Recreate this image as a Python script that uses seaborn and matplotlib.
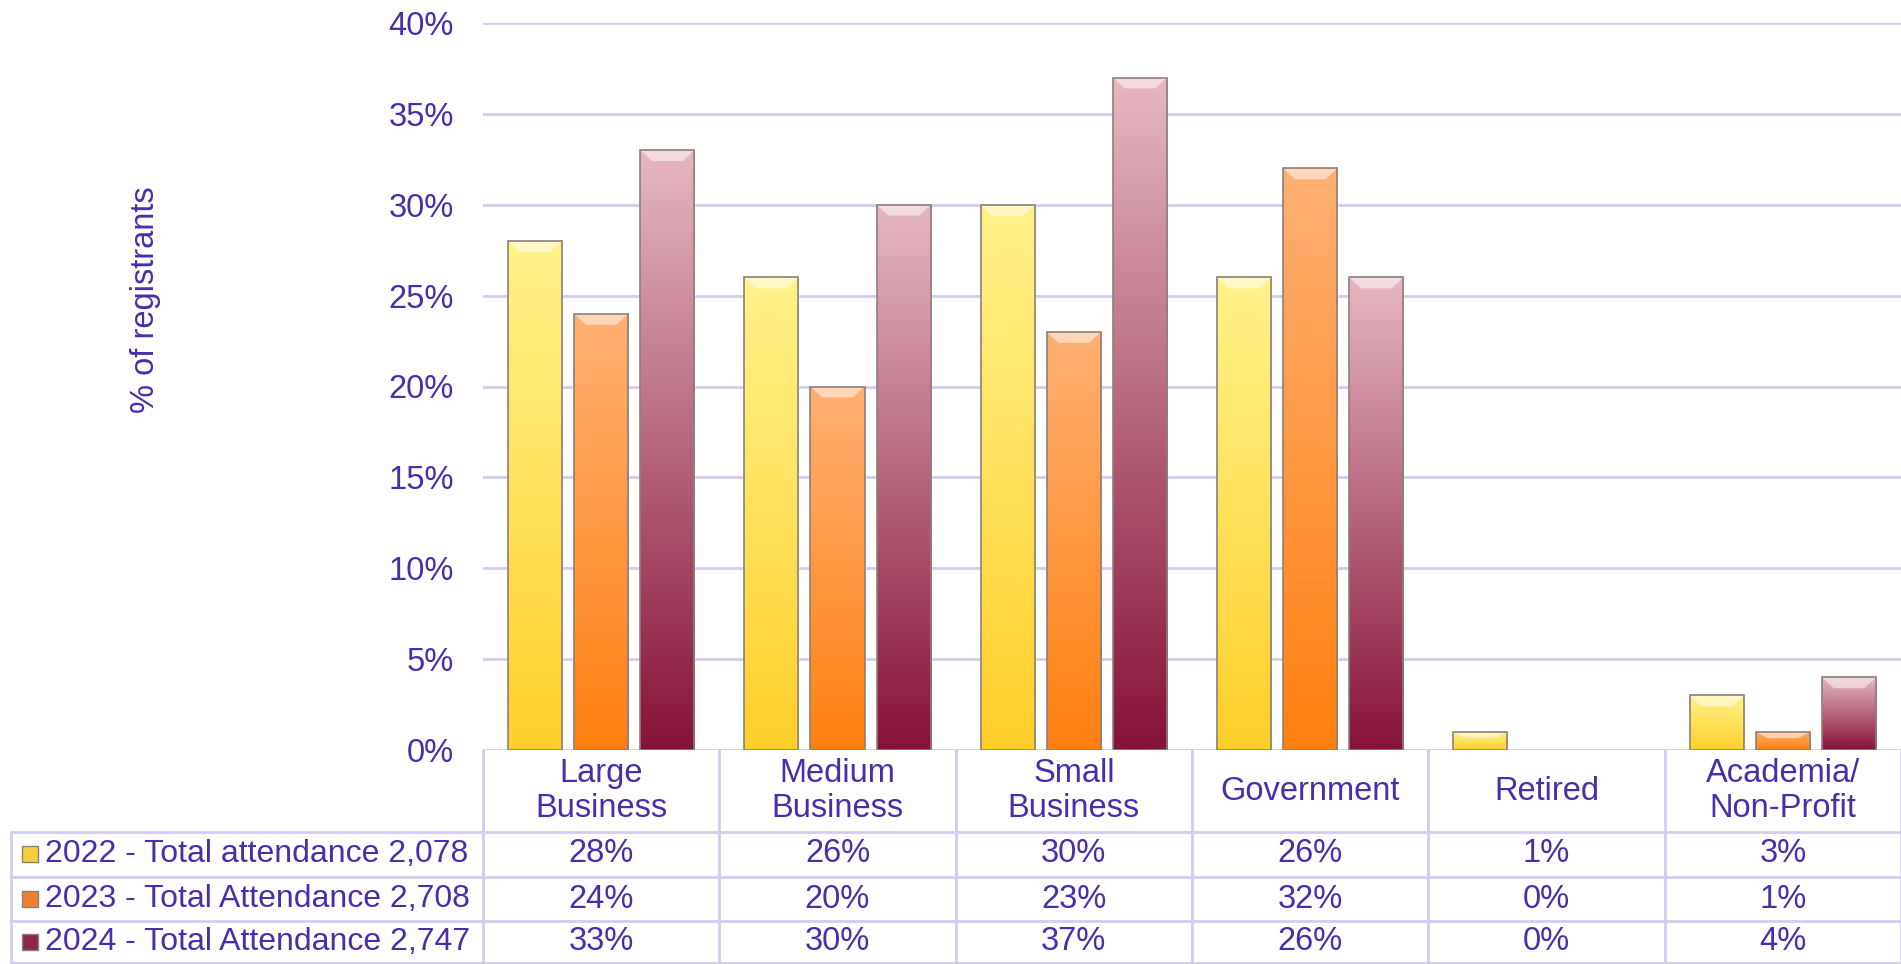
import numpy as np
import pandas as pd
import matplotlib
matplotlib.use("Agg")
import matplotlib.pyplot as plt
import seaborn as sns
from matplotlib.colors import LinearSegmentedColormap
from matplotlib.patches import Rectangle, Polygon
from matplotlib.lines import Line2D
from matplotlib.transforms import blended_transform_factory

# data (percent of registrants)
categories = ["Large\nBusiness", "Medium\nBusiness", "Small\nBusiness",
              "Government", "Retired", "Academia/\nNon-Profit"]
series = ["2022 - Total attendance 2,078",
          "2023 - Total Attendance 2,708",
          "2024 - Total Attendance 2,747"]
v2022 = [28, 26, 30, 26, 1, 3]
v2023 = [24, 20, 23, 32, 0, 1]
v2024 = [33, 30, 37, 26, 0, 4]
yticks = [0, 5, 10, 15, 20, 25, 30, 35, 40]

df = pd.DataFrame({
    "category": categories * 3,
    "series": [series[0]] * 6 + [series[1]] * 6 + [series[2]] * 6,
    "value": v2022 + v2023 + v2024,
})

top_cols = ["#fff38c", "#ffb074", "#e6b8c2"]
bot_cols = ["#ffcf2a", "#ff8010", "#861238"]
mid_cols = ["#f4d040", "#f08030", "#8a2848"]
txt = "#4b2dab"
grid = "#d3ccf0"
fs = 23.5
fs_tab = 23

sns.set_theme(style="white")
plt.rcParams["font.family"] = ["Liberation Sans", "DejaVu Sans"]

W, H = 1901, 964
fig = plt.figure(figsize=(W / 100, H / 100), dpi=100)
ax = fig.add_axes([483 / W, 1 - 750 / H, 1 - 483 / W, (750 - 23) / H])

sns.barplot(data=df, x="category", y="value", hue="series", order=categories,
            hue_order=series, palette=bot_cols, width=0.84, gap=0.18,
            legend=False, ax=ax, zorder=2)

ax.set_ylim(0, 40)
ax.set_xlim(-0.5, len(categories) - 0.5)
ax.set_yticks(yticks)
ax.set_yticklabels([f"{t}%" for t in yticks], color=txt, fontsize=fs)
ax.tick_params(axis="y", length=0, pad=21)
ax.set_xticks([])
ax.set_xlabel("")
ax.set_ylabel("")
ax.yaxis.grid(True, color=grid, lw=2, zorder=0)
for s in ax.spines.values():
    s.set_visible(False)

# gradient fill + bevel on each bar
for k, cont in enumerate(ax.containers):
    cmap = LinearSegmentedColormap.from_list(f"g{k}", [bot_cols[k], top_cols[k]])
    for p in cont.patches:
        h = p.get_height()
        if h <= 0:
            p.set_visible(False)
            continue
        x0, w = p.get_x(), p.get_width()
        im = ax.imshow(np.linspace(0, 1, 256).reshape(-1, 1), cmap=cmap,
                       extent=[x0, x0 + w, 0, h], origin="lower",
                       aspect="auto", zorder=2.1)
        im.set_clip_path(p)
        bh = min(0.6, h * 0.35)
        bw = 0.05
        ax.add_patch(Polygon([[x0, h], [x0 + w, h], [x0 + w - bw, h - bh],
                              [x0 + bw, h - bh]], closed=True,
                             facecolor="white", alpha=0.5, lw=0, zorder=2.2))
        ax.add_patch(Rectangle((x0, 0), w, h, fill=False,
                               edgecolor="#8c8078", lw=1.2, zorder=2.3))
ax.set_xlim(-0.5, len(categories) - 0.5)
ax.set_ylim(0, 40)

fig.text(145 / W, 1 - 300 / H, "% of registrants", rotation=90, color=txt,
         fontsize=fs, ha="center", va="center")

# data table under the axis
tr = blended_transform_factory(ax.transData, fig.transFigure)
fy = lambda y: 1 - y / H
x_left = -0.5 - (483 - 12) / 236.0

for i in range(len(categories) + 1):
    fig.add_artist(Line2D([i - 0.5, i - 0.5], [fy(750), fy(964)],
                          transform=tr, color=grid, lw=2))
fig.add_artist(Line2D([x_left, x_left], [fy(832), fy(964)],
                      transform=tr, color=grid, lw=2))
for y in [832, 877, 921, 963]:
    fig.add_artist(Line2D([x_left, len(categories) - 0.5], [fy(y), fy(y)],
                          transform=tr, color=grid, lw=2))

for i, c in enumerate(categories):
    fig.text(i, fy(791), c, transform=tr, ha="center", va="center",
             color=txt, fontsize=fs, linespacing=1.15)

row_y = [854, 899, 942]
for k, (name, vals) in enumerate(zip(series, [v2022, v2023, v2024])):
    fig.add_artist(Rectangle((22 / W, fy(row_y[k] + 8)), 16 / W, 16 / H,
                             transform=fig.transFigure, facecolor=mid_cols[k],
                             edgecolor="#8c8078", lw=1))
    fig.text(45 / W, fy(row_y[k]), name, ha="left", va="center",
             color=txt, fontsize=fs_tab)
    for i, v in enumerate(vals):
        fig.text(i, fy(row_y[k]), f"{v}%", transform=tr, ha="center",
                 va="center", color=txt, fontsize=fs)

fig.savefig("out.png", dpi=100)
